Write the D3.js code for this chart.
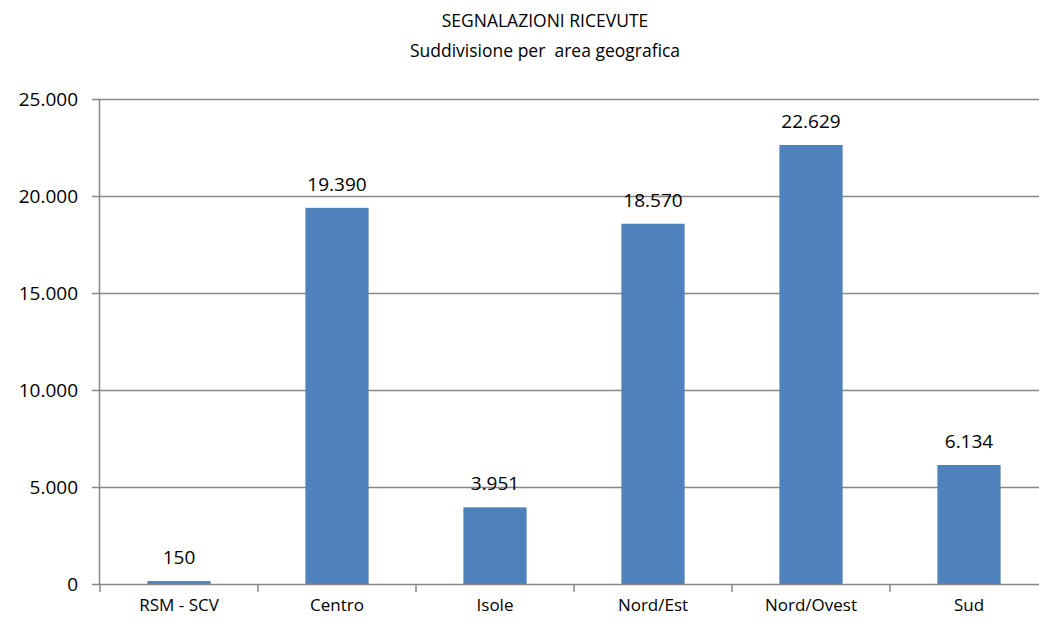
<!DOCTYPE html>
<html>
<head>
<meta charset="utf-8">
<script src="https://cdn.jsdelivr.net/npm/d3@7"></script>
<style>
  body { margin: 0; background: #fff; }
  text { font-family: "Open Sans", "Noto Sans", sans-serif; fill: #000; }
</style>
</head>
<body>
<svg id="chart" width="1039" height="620"></svg>
<script>
// dati
var categories = ["RSM - SCV", "Centro", "Isole", "Nord/Est", "Nord/Ovest", "Sud"];
var values = [150, 19390, 3951, 18570, 22629, 6134];
var yTicks = [0, 5000, 10000, 15000, 20000, 25000];
var titleLines = ["SEGNALAZIONI RICEVUTE", "Suddivisione per  area geografica"];

var svg = d3.select("#chart");
var margin = {left: 100, top: 99, right: -9, bottom: 36};
var width = 1039 - margin.left - margin.right,
    height = 620 - margin.top - margin.bottom;

// formato italiano: punto per le migliaia
var it = d3.formatLocale({decimal: ",", thousands: ".", grouping: [3], currency: ["€", ""]});
var fmt = it.format(",d");

var x = d3.scaleBand().domain(categories).range([0, width]).paddingInner(0.6).paddingOuter(0.3);
var y = d3.scaleLinear().domain([0, 25000]).range([height, 0]);

// titolo
svg.selectAll("text.title")
    .data(titleLines)
    .enter().append("text")
    .attr("class", "title")
    .attr("x", 545)
    .attr("y", function (d, i) { return 27 + i * 30; })
    .attr("text-anchor", "middle")
    .style("font-size", "17.5px")
    .style("white-space", "pre")
    .text(function (d) { return d; });

var g = svg.append("g").attr("transform", "translate(" + margin.left + "," + margin.top + ")");

// griglia
g.append("g")
    .selectAll("line")
    .data(yTicks.slice(1))
    .enter().append("line")
    .attr("x1", 0).attr("x2", width)
    .attr("y1", function (d) { return Math.round(y(d)) + 0.5; })
    .attr("y2", function (d) { return Math.round(y(d)) + 0.5; })
    .attr("stroke", "#888888")
    .attr("stroke-width", 1.5);

// barre
g.selectAll("rect.bar")
    .data(values)
    .enter().append("rect")
    .attr("class", "bar")
    .attr("x", function (d, i) { return x(categories[i]); })
    .attr("y", function (d) { return y(d); })
    .attr("width", x.bandwidth())
    .attr("height", function (d) { return height - y(d); })
    .attr("fill", "#4F81BD");

// etichette valori
g.selectAll("text.val")
    .data(values)
    .enter().append("text")
    .attr("class", "val")
    .attr("x", function (d, i) { return x(categories[i]) + x.bandwidth() / 2; })
    .attr("y", function (d) { return y(d) - 17; })
    .attr("text-anchor", "middle")
    .style("font-size", "19px")
    .text(function (d) { return fmt(d); });

// asse y
var yAxis = g.append("g")
    .call(d3.axisLeft(y).tickValues(yTicks).tickSize(8).tickPadding(14).tickFormat(fmt));
yAxis.select(".domain").attr("stroke", "#888888").attr("stroke-width", 1.5).attr("d", "M-0.5," + height + "V0");
yAxis.selectAll(".tick line").attr("stroke", "#888888").attr("stroke-width", 1.5);
yAxis.selectAll(".tick text").style("font-size", "19px").attr("fill", "#000").attr("dy", "0.35em");

// asse x
var xAxis = g.append("g")
    .attr("transform", "translate(0," + height + ")")
    .call(d3.axisBottom(x).tickSize(0).tickPadding(15));
xAxis.select(".domain").attr("stroke", "#888888").attr("stroke-width", 1.5).attr("d", "M0,0.5H" + width);
xAxis.selectAll(".tick text").style("font-size", "17px").attr("fill", "#000");
// tacche tra le categorie
g.append("g")
    .selectAll("line")
    .data(d3.range(categories.length + 1))
    .enter().append("line")
    .attr("x1", function (i) { return i * x.step(); })
    .attr("x2", function (i) { return i * x.step(); })
    .attr("y1", height).attr("y2", height + 8)
    .attr("stroke", "#888888")
    .attr("stroke-width", 1.5);
</script>
</body>
</html>
